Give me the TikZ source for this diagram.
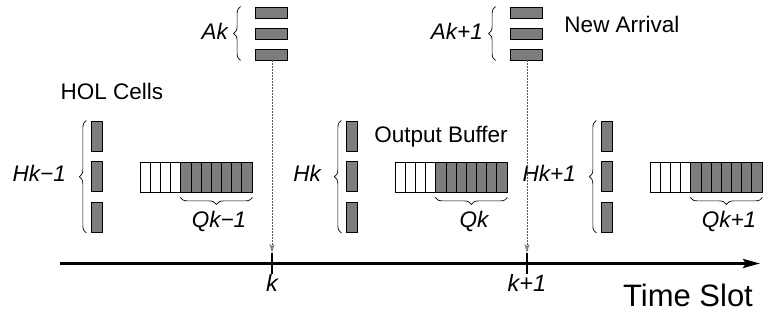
\documentclass[tikz,border=0pt]{standalone}
\usepackage{fontspec}
\setmainfont{Liberation Sans}
\usetikzlibrary{decorations.pathreplacing,arrows.meta}
\definecolor{cellgray}{RGB}{125,125,125}
\begin{document}
\begin{tikzpicture}[x=1pt,y=-1pt,
  hol/.style={draw=black, fill=cellgray, line width=0.8pt, minimum width=10.5pt, minimum height=30pt, inner sep=0pt},
  arrbar/.style={draw=black, fill=cellgray, line width=0.8pt, minimum width=32pt, minimum height=11pt, inner sep=0pt},
  qwhite/.style={draw=black, fill=white, line width=0.8pt, minimum width=10.18pt, minimum height=30pt, inner sep=0pt},
  qgray/.style={qwhite, fill=cellgray},
  lbl/.style={font=\fontsize{22.5}{24}\selectfont\itshape, inner sep=0pt},
  txt/.style={font=\fontsize{22.5}{24}\selectfont, inner sep=0pt},
  brc/.style={decorate, decoration={brace, amplitude=7pt}, line width=0.7pt},
  dotarrow/.style={draw=black!65, line width=1pt, dash pattern=on 1.5pt off 1.5pt, -{Stealth[length=9pt,width=5pt,inset=2pt,color=gray,fill=gray]}}
]
\useasboundingbox (0,0) rectangle (766,320);

% groups
\foreach \i/\hl/\ql in {0/{Hk\char"2212 1}/{Qk\char"2212 1},1/{Hk}/{Qk},2/{Hk+1}/{Qk+1}}{
  \begin{scope}[xshift=\i*255pt]
    \node[hol] (hA\i) at (97,136) {};
    \node[hol] (hB\i) at (97,176.5) {};
    \node[hol] (hC\i) at (97,217.5) {};
    \draw[brc] ([xshift=-5pt]hC\i.south west) -- ([xshift=-5pt]hA\i.north west);
    \node[lbl, anchor=base east] (hl\i) at (66,182) {\hl};
    \foreach \j in {0,...,10}{
      \pgfmathsetmacro{\qx}{145.09+10.18*\j}
      \ifnum\j<4
        \node[qwhite] (q\i-\j) at (\qx,177) {};
      \else
        \node[qgray] (q\i-\j) at (\qx,177) {};
      \fi
    }
    \draw[brc] ([yshift=-5pt]q\i-10.south east) -- ([yshift=-5pt]q\i-4.south west);
    \node[lbl, anchor=base] (ql\i) at (219,228) {\ql};
  \end{scope}
}

% axis
\coordinate (ax0) at (60,263.5);
\coordinate (ax1) at (760,263.5);
\draw[line width=3pt, -{Stealth[length=17pt,width=9pt,inset=3pt]}] (ax0) -- (ax1);
\coordinate (t1a) at (272,253);
\coordinate (t1b) at (272,274);
\coordinate (t2a) at (527,253);
\coordinate (t2b) at (527,274);
\draw[line width=2.2pt] (t1a) -- (t1b);
\draw[line width=2.2pt] (t2a) -- (t2b);
\node[lbl, font=\fontsize{23.5}{25}\selectfont\itshape, anchor=base] (kl1) at (272,292) {k};
\node[lbl, font=\fontsize{23.5}{25}\selectfont\itshape, anchor=base] (kl2) at (527,292) {k+1};
\node[txt, font=\fontsize{31}{33}\selectfont, anchor=base] (ts) at (688,307) {Time Slot};

% arrivals
\foreach \i/\al/\tk in {1/{Ak}/t1a,2/{Ak+1}/t2a}{
  \begin{scope}[xshift=(\i-1)*255pt]
    \node[arrbar] (aA\i) at (271,12.5) {};
    \node[arrbar] (aB\i) at (271,33.5) {};
    \node[arrbar] (aC\i) at (271,54.5) {};
    \draw[brc] ([xshift=-14pt]aC\i.south west) -- ([xshift=-14pt]aA\i.north west);
    \node[lbl, anchor=base east] (al\i) at (228,40) {\al};
  \end{scope}
  \draw[dotarrow] (aC\i.south -| \tk) -- (\tk);
}

% texts
\node[txt, anchor=base] (hol) at (112,100) {HOL Cells};
\node[txt, anchor=base] (ob) at (441,143) {Output Buffer};
\node[txt, anchor=base] (na) at (622,33) {New Arrival};
\end{tikzpicture}
\end{document}
